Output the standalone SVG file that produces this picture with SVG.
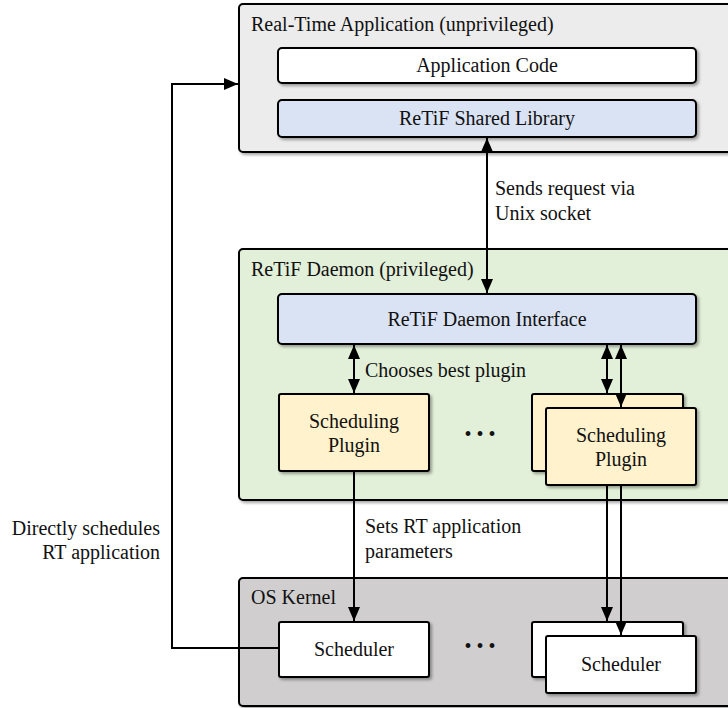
<svg xmlns="http://www.w3.org/2000/svg" width="728" height="708" viewBox="0 0 728 708">
<defs>
  <filter id="sh" x="-10%" y="-10%" width="130%" height="140%">
    <feDropShadow dx="2" dy="2" stdDeviation="1.5" flood-color="#000" flood-opacity="0.35"/>
  </filter>
  <marker id="ah" viewBox="0 0 14 12" refX="14" refY="6" markerWidth="14" markerHeight="12" markerUnits="userSpaceOnUse" orient="auto-start-reverse">
    <path d="M0,0 L14,6 L0,12 Z" fill="#000"/>
  </marker>
  <style>
    .c { text-anchor: middle; }
    .box { stroke: #000; stroke-width: 2; filter: url(#sh); }
    .cont { stroke: #000; stroke-width: 2; filter: url(#sh); }
    .ln { stroke: #000; stroke-width: 2; fill: none; }
  </style>
</defs>

<g font-family="Liberation Serif, DejaVu Serif, serif" font-size="20" fill="#111">
<g id="rt-app">
  <rect class="cont" x="239" y="4" width="510" height="148" rx="4" fill="#ececec"/>
  <text x="251" y="31">Real-Time Application (unprivileged)</text>
</g>
<g id="app-code">
  <rect class="box" x="278" y="48" width="418" height="35" rx="4" fill="#ffffff"/>
  <text class="c" x="487" y="72">Application Code</text>
</g>
<g id="shared-lib">
  <rect class="box" x="278" y="100" width="418" height="37" rx="4" fill="#dae3f3"/>
  <text class="c" x="487" y="125">ReTiF Shared Library</text>
</g>

<g id="daemon">
  <rect class="cont" x="239" y="249" width="510" height="251" rx="4" fill="#e2efd9"/>
  <text x="251" y="276">ReTiF Daemon (privileged)</text>
</g>
<g id="daemon-iface">
  <rect class="box" x="278" y="294" width="418" height="50" rx="4" fill="#dae3f3"/>
  <text class="c" x="487" y="326">ReTiF Daemon Interface</text>
</g>
<g id="plugin-1">
  <rect class="box" x="279" y="394" width="150" height="77" rx="2" fill="#fff2cc"/>
  <text class="c" x="354" y="428">Scheduling</text>
  <text class="c" x="354" y="452">Plugin</text>
</g>
<g id="plugin-dots">
  <text class="c" x="480" y="441">• • •</text>
</g>
<g id="plugin-n">
  <rect class="box" x="532" y="394" width="151" height="77" rx="2" fill="#fff2cc"/>
  <rect class="box" x="546" y="408" width="150" height="77" rx="2" fill="#fff2cc"/>
  <text class="c" x="621" y="442">Scheduling</text>
  <text class="c" x="621" y="466">Plugin</text>
</g>

<g id="kernel">
  <rect class="cont" x="239" y="578" width="510" height="128" rx="4" fill="#d0cece"/>
  <text x="251" y="604">OS Kernel</text>
</g>
<g id="scheduler-1">
  <rect class="box" x="279" y="622" width="150" height="55" rx="2" fill="#ffffff"/>
  <text class="c" x="354" y="656">Scheduler</text>
</g>
<g id="scheduler-dots">
  <text class="c" x="480" y="653">• • •</text>
</g>
<g id="scheduler-n">
  <rect class="box" x="532" y="622" width="151" height="55" rx="2" fill="#ffffff"/>
  <rect class="box" x="546" y="636" width="150" height="57" rx="2" fill="#ffffff"/>
  <text class="c" x="621" y="671">Scheduler</text>
</g>

<g id="connectors">
  <line class="ln" x1="487" y1="138" x2="487" y2="293" marker-start="url(#ah)" marker-end="url(#ah)"/>
  <line class="ln" x1="354" y1="345" x2="354" y2="393" marker-start="url(#ah)" marker-end="url(#ah)"/>
  <line class="ln" x1="607" y1="345" x2="607" y2="393" marker-start="url(#ah)" marker-end="url(#ah)"/>
  <line class="ln" x1="621" y1="345" x2="621" y2="407" marker-start="url(#ah)" marker-end="url(#ah)"/>
  <line class="ln" x1="354" y1="472" x2="354" y2="621" marker-end="url(#ah)"/>
  <line class="ln" x1="607" y1="486" x2="607" y2="621" marker-end="url(#ah)"/>
  <line class="ln" x1="621" y1="486" x2="621" y2="635" marker-end="url(#ah)"/>
  <path class="ln" d="M279,648 H172 V84 H238" marker-end="url(#ah)"/>
</g>

<g id="labels">
  <text x="495" y="195">Sends request via</text>
  <text x="495" y="220">Unix socket</text>
  <text x="365" y="377">Chooses best plugin</text>
  <text x="365" y="533">Sets RT application</text>
  <text x="365" y="558">parameters</text>
  <text x="160" y="535" text-anchor="end">Directly schedules</text>
  <text x="160" y="559" text-anchor="end">RT application</text>
</g>
</g>
</svg>
